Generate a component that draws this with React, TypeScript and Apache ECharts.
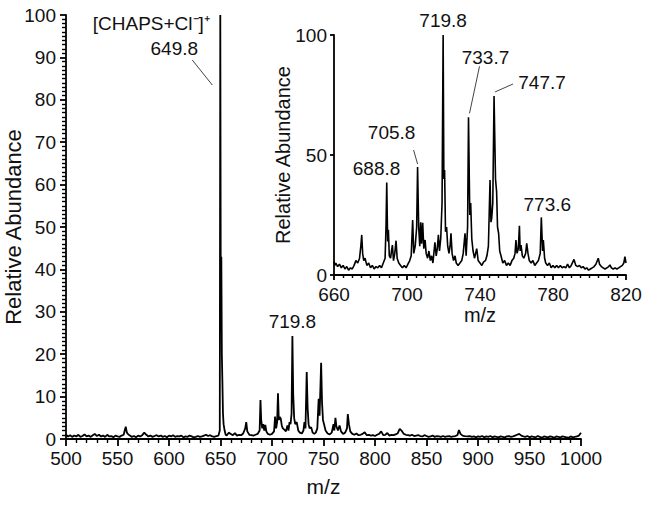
import React, { useEffect, useRef } from "react";
import * as echarts from "echarts";

// Full-range spectrum: [m/z, relative abundance]
const mainSpectrum: [number, number][] = [
  [500, 1.0], [502, 0.6], [504, 0.9], [506, 0.5], [508, 0.8], [510, 0.6], [512, 1.0], [514, 0.5],
  [516, 0.7], [518, 1.1], [520, 0.6], [522, 0.8], [524, 0.5], [526, 0.9], [528, 1.2], [530, 0.7],
  [532, 1.0], [534, 0.6], [536, 0.8], [538, 0.5], [540, 1.0], [542, 0.6], [544, 0.7], [546, 0.4],
  [548, 0.8], [550, 0.6], [552, 0.5], [554, 0.8], [556, 1.0], [557, 2.0], [558, 2.9], [559, 1.6],
  [560, 1.2], [562, 0.8], [564, 0.5], [566, 0.7], [568, 0.4], [570, 0.8], [572, 0.6], [574, 0.9],
  [576, 1.5], [578, 1.0], [580, 0.6], [582, 0.8], [584, 0.5], [586, 0.7], [588, 0.9], [590, 0.6],
  [592, 0.8], [594, 0.5], [596, 0.7], [598, 0.4], [600, 0.8], [602, 0.6], [604, 0.9], [606, 0.5],
  [608, 0.7], [610, 0.6], [612, 0.8], [614, 0.4], [616, 0.6], [618, 0.5], [620, 0.8], [622, 0.6],
  [624, 0.4], [626, 0.5], [628, 0.7], [630, 0.5], [632, 0.6], [634, 0.8], [636, 1.0], [638, 0.7],
  [640, 0.9], [642, 0.6], [644, 0.5], [646, 0.7], [648, 0.8], [649.3, 2], [649.8, 100], [650.3, 30],
  [650.8, 43], [651.3, 20], [651.8, 14], [652.4, 6], [653, 3.5], [654, 2], [655, 1], [656, 0.8],
  [658, 1.5], [660, 1.2], [662, 0.9], [664, 1.4], [666, 0.8], [668, 1.0], [670, 0.9], [672, 1.3],
  [674, 2.5], [675, 4.0], [676, 1.8], [678, 1.0], [680, 0.9], [682, 0.8], [684, 1.0], [686, 1.2],
  [688, 2], [688.8, 9.2], [689.5, 4.5], [690.5, 2.5], [691.5, 3.5], [692.5, 2], [693.5, 3.3], [694.5, 1.8],
  [696, 1.2], [698, 1.0], [700, 1.2], [702, 1.8], [703, 5.3], [704, 2.5], [705, 4], [705.8, 10.8],
  [706.6, 4.5], [707.5, 5.2], [708.5, 4.8], [709.5, 3.2], [710.5, 2.5], [712, 2.2], [713.5, 1.8], [715, 3.2],
  [716, 2], [717, 4], [718, 3.5], [719, 6], [719.8, 24.3], [720.6, 10.5], [721.5, 5], [722.5, 3.5],
  [724, 4], [725.5, 2], [727, 1.5], [729, 1.3], [730.5, 2], [731.5, 4], [732.5, 2.5], [733.7, 15.8],
  [734.6, 7.3], [735.5, 3.5], [736.5, 2.5], [738, 2.8], [739.5, 1.5], [741, 1.2], [742.5, 1.5], [744, 2.5],
  [745.3, 9.5], [746.2, 5.5], [747.7, 18], [748.6, 8.5], [749.5, 4.5], [750.5, 3.5], [752, 2], [754, 1.3],
  [756, 1.1], [758, 1.5], [759.7, 3.5], [760.5, 2], [761.6, 5], [762.5, 3], [764, 2], [765.6, 3.2],
  [767, 1.8], [769, 1.2], [771, 1.5], [772.8, 2.5], [773.6, 5.9], [774.7, 3.5], [776, 1.8], [778, 1.2],
  [780, 1.0], [782, 1.3], [784, 0.9], [786, 1.0], [788, 1.2], [790, 1.6], [792, 0.9], [794, 1.0],
  [796, 0.8], [798, 0.9], [800, 0.7], [802, 1.0], [804, 1.2], [806, 1.8], [808, 0.9], [810, 1.0],
  [812, 1.4], [814, 0.8], [816, 1.0], [818, 0.9], [820, 1.1], [822, 1.3], [824, 2.4], [826, 1.9],
  [828, 1.2], [830, 1.0], [832, 0.9], [834, 0.8], [836, 1.0], [838, 0.7], [840, 0.8], [842, 0.9],
  [844, 0.7], [846, 0.6], [848, 0.9], [850, 0.7], [852, 0.5], [854, 0.6], [856, 0.8], [858, 0.5],
  [860, 0.7], [862, 0.6], [864, 0.5], [866, 0.7], [868, 0.5], [870, 0.6], [872, 0.7], [874, 0.5],
  [876, 0.6], [878, 0.7], [880, 0.9], [881.5, 2.1], [883, 1.2], [885, 0.8], [887, 0.7], [890, 0.6],
  [892, 0.7], [894, 0.5], [896, 0.6], [898, 0.4], [900, 0.6], [902, 0.5], [904, 0.7], [906, 0.4],
  [908, 0.6], [910, 0.5], [912, 0.7], [914, 0.4], [916, 0.6], [918, 0.5], [920, 0.4], [922, 0.6],
  [924, 0.5], [926, 0.4], [928, 0.6], [930, 0.7], [932, 0.5], [934, 0.6], [936, 0.8], [938, 1.0],
  [940, 1.2], [942, 0.8], [944, 0.6], [946, 0.5], [948, 0.7], [950, 0.4], [952, 0.6], [954, 0.5],
  [956, 0.4], [958, 0.7], [960, 0.5], [962, 0.3], [964, 0.6], [966, 0.5], [968, 0.4], [970, 0.6],
  [972, 0.5], [974, 0.3], [976, 0.6], [978, 0.5], [980, 0.4], [982, 0.6], [984, 0.5], [986, 0.4],
  [988, 0.3], [990, 0.6], [992, 0.4], [994, 0.5], [996, 0.6], [998, 0.8], [1000, 1.5],
];

// Inset (zoomed 660-820) spectrum: [m/z, relative abundance]
const insetSpectrum: [number, number][] = [
  [660, 5.5], [660.5, 4], [661, 5], [662, 3.5], [663, 4.5], [664, 3], [665, 4], [666, 2.5],
  [667, 3.5], [668, 2], [669, 3], [670, 2.5], [671, 4], [672, 6], [673, 5], [674, 7],
  [674.7, 12], [675.2, 16.7], [675.7, 9], [676.3, 6], [677, 7], [678, 4], [679, 5], [680, 3],
  [681, 4], [682, 2.5], [683, 3.5], [684, 3], [685, 4], [686, 3], [687, 5], [688, 7],
  [688.5, 20], [688.9, 38.5], [689.4, 14], [689.8, 18.8], [690.3, 8], [691, 7], [691.5, 10], [692, 12.5],
  [692.6, 6], [693.3, 9], [694, 14.3], [694.6, 7], [695.5, 5], [696.5, 4], [697.5, 3], [698.5, 4],
  [699.5, 3], [700.5, 4.5], [701.5, 6], [702.3, 8], [703.1, 22.9], [703.7, 9], [704.5, 12], [705.3, 20],
  [705.8, 45], [706.4, 20], [707, 12], [707.5, 22], [708, 13], [708.6, 21.8], [709.2, 11], [709.9, 14.6],
  [710.5, 9], [711.3, 7], [712, 10], [712.8, 6], [713.5, 8], [714.2, 5], [715.3, 13.6], [716, 8],
  [716.6, 11], [717.2, 16.7], [717.8, 10], [718.5, 15.3], [719.2, 30], [719.8, 100], [720.2, 40], [720.6, 43.7],
  [721.1, 18], [721.7, 20], [722.3, 12], [723, 9], [723.6, 12], [724.1, 17.4], [724.7, 9], [725.5, 6],
  [726.3, 8], [727, 5], [728, 4], [729, 5], [730, 6], [730.8, 9], [731.8, 17.4], [732.4, 8],
  [733.2, 20], [733.7, 65.7], [734.4, 25], [734.9, 30], [735.5, 15], [736.2, 10], [737, 7], [738.2, 11],
  [739, 6], [740, 5], [741, 4], [742, 5.5], [743, 6], [743.8, 8], [744.6, 12], [745.5, 39.6],
  [746, 22], [746.4, 23.6], [747, 30], [747.7, 74.6], [748.5, 40], [749.1, 34.7], [749.6, 20], [750.2, 17.4],
  [750.8, 10], [751.5, 8], [752.5, 5], [753.5, 6], [754.5, 4], [755.5, 5], [756.5, 4], [757.5, 6],
  [758.5, 7], [759.2, 9], [759.7, 14.6], [760.3, 9], [761, 11], [761.6, 20.5], [762, 10], [762.5, 12.5],
  [763.2, 8], [764, 7], [765, 9], [765.6, 13.2], [766.3, 9], [767, 6], [768, 5], [769, 6],
  [770, 4], [771, 5], [772, 6], [773, 9], [773.6, 24], [774.3, 10], [774.7, 14.6], [775.4, 7],
  [776, 5], [777, 4], [778, 5], [779, 3], [780, 4], [781, 3], [782, 4], [783, 3],
  [784, 4], [785, 3], [786, 3.5], [787, 3], [788, 4.5], [789, 3], [790, 4], [791.5, 6.5],
  [792.5, 4], [793.5, 3.5], [794.5, 4], [795.5, 3], [796.5, 3.5], [797.5, 2.5], [798.5, 3], [799.5, 2],
  [800.5, 2.5], [801.5, 3], [802.5, 3.5], [803.5, 4.5], [804.8, 7], [805.5, 4.5], [806.5, 3.5], [807.5, 3],
  [808.5, 2.5], [809.5, 3], [810.5, 3.5], [811.2, 4.2], [812, 3], [813, 2.5], [814, 3], [815, 2.5],
  [816, 3], [817, 3.5], [818, 4], [818.8, 5], [819.4, 7.6], [820, 5],
];

// Peak annotations
const mainPeakLabels = ["649.8", "719.8"];
const mainIonLabel = "[CHAPS+Cl⁻]⁺";
const insetPeakLabels = ["688.8", "705.8", "719.8", "733.7", "747.7", "773.6"];

// Axis ranges / tick steps
const mainX = { min: 500, max: 1000, major: 50, minorSplit: 5 };
const mainY = { min: 0, max: 100, major: 10, minorSplit: 10 };
const insetX = { min: 660, max: 820, major: 40, minorSplit: 8 };
const insetY = { min: 0, max: 100, major: 50 };

const FONT = "'Liberation Sans', Arial, Helvetica, sans-serif";
const TEXT = "#111";

function peakValue(spec: [number, number][], mz: number): number {
  let best = spec[0];
  for (const p of spec) if (Math.abs(p[0] - mz) < Math.abs(best[0] - mz)) best = p;
  return best[1];
}

// label offsets (style only): [dx, dy] of text centre from peak top, optional leader line
const labelStyle: Record<string, { dx: number; dy: number; line?: [number, number, number, number] }> = {
  "main-649.8": { dx: -46, dy: 33, line: [-28, 45, -8, 70] },
  "main-719.8": { dx: 0, dy: -14 },
  "inset-719.8": { dx: 0, dy: -15 },
  "inset-733.7": { dx: 17, dy: -60, line: [11, -51, 1, -4] },
  "inset-747.7": { dx: 48, dy: -13, line: [19, -12, 1, -4] },
  "inset-705.8": { dx: -26, dy: -35, line: [-4, -17, 0, -3] },
  "inset-688.8": { dx: -10, dy: -14 },
  "inset-773.6": { dx: 6, dy: -13 },
};

const fmt = (v: number) => String(v);

function axisBase(tickLen: number, minorSplit: number, minorLen: number) {
  return {
    axisLine: { show: true, onZero: false, lineStyle: { color: "#000", width: 1.8 } },
    axisTick: { show: true, length: tickLen, lineStyle: { color: "#000", width: 1.8 } },
    minorTick: {
      show: minorSplit > 0, splitNumber: minorSplit || 5, length: minorLen,
      lineStyle: { color: "#000", width: 1.4 },
    },
    splitLine: { show: false },
    minorSplitLine: { show: false },
    nameMoveOverlap: false,
  };
}

export default function App() {
  const ref = useRef<HTMLDivElement>(null);
  useEffect(() => {
    if (!ref.current) return;
    const chart = echarts.init(ref.current, undefined, { renderer: "svg" });
    chart.setOption({
      animation: false,
      grid: [
        { left: 66, top: 15, width: 515, height: 424, outerBoundsMode: "none" },
        { left: 334, top: 35, width: 292, height: 240, outerBoundsMode: "none" },
      ],
      xAxis: [
        {
          ...axisBase(7, mainX.minorSplit, 4), gridIndex: 0, type: "value",
          min: mainX.min, max: mainX.max, interval: mainX.major,
          name: "m/z", nameLocation: "middle", nameGap: 37,
          nameTextStyle: { color: TEXT, fontFamily: FONT, fontSize: 21 },
          axisLabel: { color: TEXT, fontSize: 19, fontFamily: FONT, formatter: fmt, margin: 10 },
        },
        {
          ...axisBase(5, insetX.minorSplit, 3), gridIndex: 1, type: "value",
          min: insetX.min, max: insetX.max, interval: insetX.major,
          name: "m/z", nameLocation: "middle", nameGap: 30,
          nameTextStyle: { color: TEXT, fontFamily: FONT, fontSize: 20 },
          axisLabel: { color: TEXT, fontSize: 19, fontFamily: FONT, formatter: fmt, margin: 10 },
        },
      ],
      yAxis: [
        {
          ...axisBase(6, mainY.minorSplit, 4), gridIndex: 0, type: "value",
          min: mainY.min, max: mainY.max, interval: mainY.major,
          name: "Relative Abundance", nameLocation: "middle", nameGap: 42,
          nameTextStyle: { color: TEXT, fontFamily: FONT, fontSize: 22 },
          axisLabel: { color: TEXT, fontSize: 19, fontFamily: FONT, formatter: fmt, margin: 10 },
        },
        {
          ...axisBase(4, 0, 0), gridIndex: 1, type: "value",
          min: insetY.min, max: insetY.max, interval: insetY.major,
          name: "Relative Abundance", nameLocation: "middle", nameGap: 41,
          nameTextStyle: { color: TEXT, fontFamily: FONT, fontSize: 20 },
          axisLabel: { color: TEXT, fontSize: 19, fontFamily: FONT, formatter: fmt, margin: 7 },
        },
      ],
      series: [
        {
          type: "line", xAxisIndex: 0, yAxisIndex: 0, data: mainSpectrum,
          symbol: "none", lineStyle: { color: "#000", width: 1.8 }, z: 2,
        },
        {
          type: "line", xAxisIndex: 1, yAxisIndex: 1, data: insetSpectrum,
          symbol: "none", lineStyle: { color: "#000", width: 1.6 }, z: 3,
        },
      ],
    });

    const graphics: any[] = [];
    const addLabels = (
      labels: string[], spec: [number, number][], idx: number, key: string
    ) => {
      for (const lab of labels) {
        const mz = parseFloat(lab);
        const v = peakValue(spec, mz);
        const [px, py] = chart.convertToPixel({ xAxisIndex: idx, yAxisIndex: idx } as any, [mz, v]) as number[];
        const st = labelStyle[`${key}-${lab}`] || { dx: 0, dy: -14 };
        graphics.push({
          type: "text", x: px + st.dx, y: py + st.dy, z: 10,
          style: { text: lab, fill: TEXT, fontSize: 19, fontFamily: FONT, align: "center", verticalAlign: "middle" },
        });
        if (st.line) {
          const [x1, y1, x2, y2] = st.line;
          graphics.push({
            type: "line", z: 10,
            shape: { x1: px + x1, y1: py + y1, x2: px + x2, y2: py + y2 },
            style: { stroke: "#444", lineWidth: 1 },
          });
        }
        if (key === "main" && lab === "649.8") {
          graphics.push({
            type: "text", x: px - 69, y: py + 8, z: 10,
            style: { text: mainIonLabel, fill: TEXT, fontSize: 19, fontFamily: FONT, align: "center", verticalAlign: "middle" },
          });
        }
      }
    };
    addLabels(mainPeakLabels, mainSpectrum, 0, "main");
    addLabels(insetPeakLabels, insetSpectrum, 1, "inset");
    chart.setOption({ graphic: graphics });

    return () => chart.dispose();
  }, []);
  return (
    <div
      ref={ref}
      style={{ position: "absolute", left: 0, top: 0, width: 651, height: 506, background: "#fff" }}
    />
  );
}
